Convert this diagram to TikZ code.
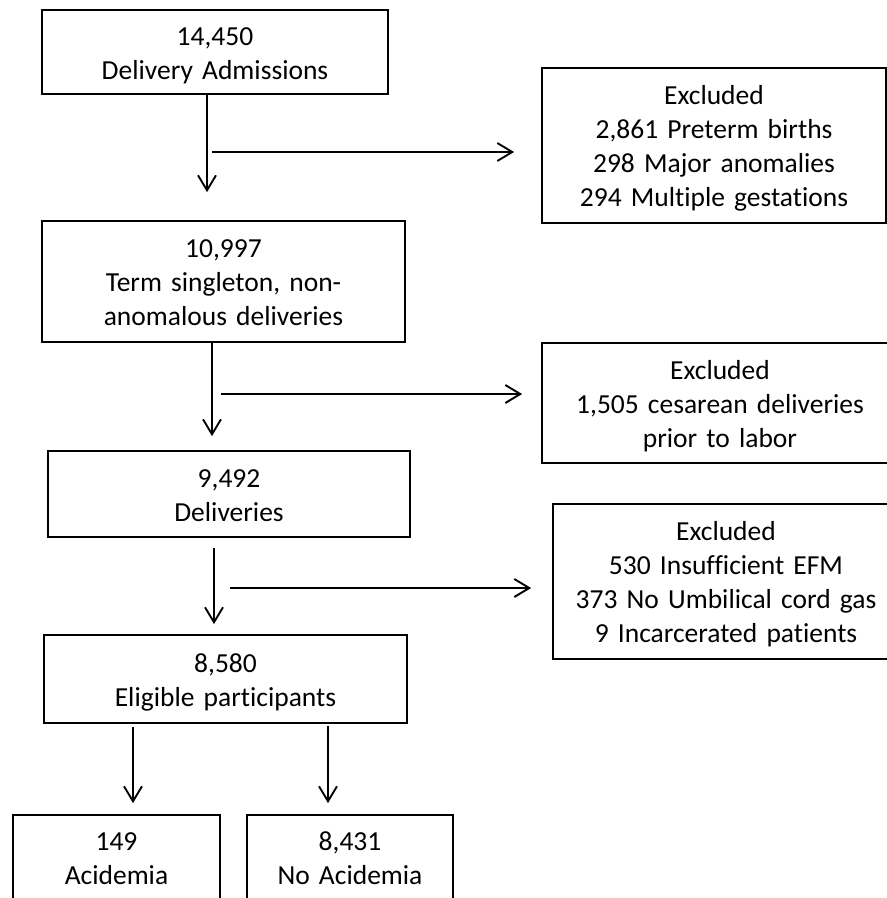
\documentclass[tikz,border=0pt]{standalone}
\usepackage{fontspec}
\setmainfont{Carlito}[Ligatures=NoCommon]
\usetikzlibrary{arrows.meta}

\begin{document}
\begin{tikzpicture}[x=1pt,y=-1pt,>={Straight Barb[length=15pt,width=18pt]},
    every node/.style={font=\fontsize{27.5}{34}\selectfont},
    count box/.style={draw,line width=1.7pt,align=center,inner sep=0pt,
      execute at begin node={\rule{0pt}{26pt}},
      execute at end node={\rule[-6pt]{0pt}{6pt}}},
    excl box/.style={count box},
    flow/.style={->,line width=1.9pt}]

  \fill[white] (0,0) rectangle (887,898);
  \path[use as bounding box,clip] (0,0) rectangle (887,898);

  % main column
  \node[count box,text width=346pt,minimum height=84pt] (admit) at (215,52) {14,450\\Delivery Admissions};
  \node[count box,text width=363pt,minimum height=121pt] (term) at (223.5,281.5) {10,997\\Term singleton, non-\\anomalous deliveries};
  \node[count box,text width=362pt,minimum height=86pt] (deliv) at (229,494) {9,492\\Deliveries};
  \node[count box,text width=363pt,minimum height=88pt] (elig) at (225.5,679) {8,580\\Eligible participants};
  \node[count box,text width=207pt,minimum height=85pt] (acid) at (116.5,857.5) {149\\Acidemia};
  \node[count box,text width=206pt,minimum height=85pt] (noacid) at (350,857.5) {8,431\\No Acidemia};

  % exclusions
  \node[excl box,text width=344pt,minimum height=155pt] (excl1) at (714,145.5) {Excluded\\2,861 Preterm births\\298 Major anomalies\\294 Multiple gestations};
  \node[excl box,text width=356pt,minimum height=120pt] (excl2) at (720,403) {Excluded\\1,505 cesarean deliveries\\prior to labor};
  \node[excl box,text width=346pt,minimum height=155pt] (excl3) at (726,581.5) {Excluded\\530 Insufficient EFM\\373 No Umbilical cord gas\\9 Incarcerated patients};

  % down arrows
  \coordinate (s1) at ([xshift=-8pt]admit.south);
  \coordinate (s2) at ([xshift=-11.5pt]term.south);
  \coordinate (s3) at ([xshift=-15pt]deliv.south);
  \draw[flow,shorten >=28pt] (s1) -- (s1 |- term.north);
  \draw[flow,shorten >=14pt] (s2) -- (s2 |- deliv.north);
  \draw[flow,shorten <=10pt,shorten >=10pt] (s3) -- (s3 |- elig.north);

  \coordinate (s4) at (elig.south -| acid.north);
  \coordinate (s5) at (elig.south -| noacid.north);
  \draw[flow,shorten <=3pt,shorten >=11pt] ([xshift=16.5pt]s4) -- ([xshift=16.5pt]acid.north);
  \draw[flow,shorten <=2pt,shorten >=11pt] ([xshift=-22pt]s5) -- ([xshift=-22pt]noacid.north);

  % side arrows
  \coordinate (b1) at (212,152);
  \coordinate (b2) at (221,394);
  \coordinate (b3) at (230,588);
  \draw[flow,shorten >=27pt] (b1) -- (b1 -| excl1.west);
  \draw[flow,shorten >=19pt] (b2) -- (b2 -| excl2.west);
  \draw[flow,shorten >=21pt] (b3) -- (b3 -| excl3.west);
\end{tikzpicture}
\end{document}
